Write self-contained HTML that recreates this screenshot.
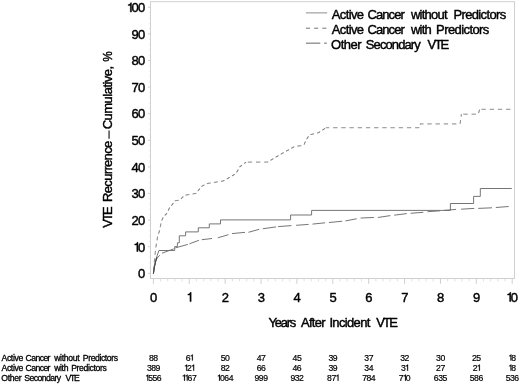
<!DOCTYPE html>
<html>
<head>
<meta charset="utf-8">
<style>
html,body{margin:0;padding:0;background:#fff;}
body{width:520px;height:384px;overflow:hidden;}
svg{display:block;font-family:"Liberation Sans",sans-serif;will-change:transform;opacity:0.999;}
text{fill:#000;}
</style>
</head>
<body>
<svg width="520" height="384" viewBox="0 0 520 384">
<rect x="0" y="0" width="520" height="384" fill="#fff"/>
<rect x="150.5" y="1.7" width="364.0" height="276.8" fill="none" stroke="#d0d0d0" stroke-width="1"/>
<path d="M148,273.30H150.5M148,246.70H150.5M148,220.10H150.5M148,193.50H150.5M148,166.90H150.5M148,140.30H150.5M148,113.70H150.5M148,87.10H150.5M148,60.50H150.5M148,33.90H150.5M148,7.30H150.5" stroke="#c8c8c8" stroke-width="0.8" fill="none"/>
<path d="M149.2,267.98H150.5M149.2,262.66H150.5M149.2,257.34H150.5M149.2,252.02H150.5M149.2,241.38H150.5M149.2,236.06H150.5M149.2,230.74H150.5M149.2,225.42H150.5M149.2,214.78H150.5M149.2,209.46H150.5M149.2,204.14H150.5M149.2,198.82H150.5M149.2,188.18H150.5M149.2,182.86H150.5M149.2,177.54H150.5M149.2,172.22H150.5M149.2,161.58H150.5M149.2,156.26H150.5M149.2,150.94H150.5M149.2,145.62H150.5M149.2,134.98H150.5M149.2,129.66H150.5M149.2,124.34H150.5M149.2,119.02H150.5M149.2,108.38H150.5M149.2,103.06H150.5M149.2,97.74H150.5M149.2,92.42H150.5M149.2,81.78H150.5M149.2,76.46H150.5M149.2,71.14H150.5M149.2,65.82H150.5M149.2,55.18H150.5M149.2,49.86H150.5M149.2,44.54H150.5M149.2,39.22H150.5M149.2,28.58H150.5M149.2,23.26H150.5M149.2,17.94H150.5M149.2,12.62H150.5" stroke="#dcdcdc" stroke-width="0.8" fill="none"/>
<path d="M153.40,278.5V283.8M189.28,278.5V283.8M225.16,278.5V283.8M261.04,278.5V283.8M296.92,278.5V283.8M332.80,278.5V283.8M368.68,278.5V283.8M404.56,278.5V283.8M440.44,278.5V283.8M476.32,278.5V283.8M512.20,278.5V283.8" stroke="#cfcfcf" stroke-width="1" fill="none"/>
<path d="M160.58,278.5V281.4M167.75,278.5V281.4M174.93,278.5V281.4M182.10,278.5V281.4M196.46,278.5V281.4M203.63,278.5V281.4M210.81,278.5V281.4M217.98,278.5V281.4M232.34,278.5V281.4M239.51,278.5V281.4M246.69,278.5V281.4M253.86,278.5V281.4M268.22,278.5V281.4M275.39,278.5V281.4M282.57,278.5V281.4M289.74,278.5V281.4M304.10,278.5V281.4M311.27,278.5V281.4M318.45,278.5V281.4M325.62,278.5V281.4M339.98,278.5V281.4M347.15,278.5V281.4M354.33,278.5V281.4M361.50,278.5V281.4M375.86,278.5V281.4M383.03,278.5V281.4M390.21,278.5V281.4M397.38,278.5V281.4M411.74,278.5V281.4M418.91,278.5V281.4M426.09,278.5V281.4M433.26,278.5V281.4M447.62,278.5V281.4M454.79,278.5V281.4M461.97,278.5V281.4M469.14,278.5V281.4M483.50,278.5V281.4M490.67,278.5V281.4M497.85,278.5V281.4M505.02,278.5V281.4" stroke="#dcdcdc" stroke-width="0.9" fill="none"/>
<g fill="none" stroke="#6e6e6e" stroke-width="0.95">
<path d="M153.4,273.5L154.4,267L155.6,261.5L157.2,258L159.8,255.2M162,253.2L173.7,248.9M175.4,247.9L187.8,244.4M189.5,243.8L198.9,240.3M201.8,239.7L212,238.5M217.8,237.8L228.4,234.7M232,233.6L245,232.35M248.4,232.3L259.2,229.3M262.8,228.75L276.1,226.9M278.2,226.6L291.4,225.6M296.1,225.3L308.6,224.4M312.5,224.1L325,222.8M328.9,222.5L342.2,221.25M345.5,220.9L356.7,218.75M360.6,218L373.9,217.5M377.8,217.5L390.3,215.6M394.2,215.2L406.7,213.6M410.6,213.3L423.3,212.3M427.5,211.7L440,210.8M444,210.4L456,209.4M461.1,209.2L474.3,208.4M478.2,208.4L492,207.8M495.8,207.5L508.7,206.5"/>
<path d="M153.40,273.50H153.44V273.00H153.48V272.50H153.52V272.00H153.56V271.50H153.60V271.00H153.64V270.50H153.68V270.00H153.72V269.50H153.76V269.00H153.80V268.50H153.84V268.00H153.88V267.50H153.92V267.00H153.96V266.50H154.00V266.00H154.04V265.50H154.08V265.00H154.12V264.50H154.16V264.00H154.20V263.50H154.24V263.00H154.28V262.50H154.32V262.00H154.36V261.50H154.40V261.00H154.45V260.52H154.49V260.03H154.54V259.55H154.58V259.07H154.63V258.58H154.68V258.10H154.72V257.62H154.77V257.13H154.81V256.65H154.86V256.17H154.90V255.68H154.95V255.20H155.00V254.72H155.04V254.23H155.09V253.75H155.13V253.27H155.18V252.78H155.22V252.30H155.27V251.82H155.32V251.33H155.36V250.85H155.41V250.37H155.45V249.88H155.50V249.40H155.58V248.90H155.66V248.40H155.74V247.90H155.82V247.40H155.90V246.90H155.98V246.40H156.06V245.90H156.14V245.40H156.22V244.90H156.30V244.40H156.38V243.90H156.46V243.40H156.54V242.90H156.62V242.40H156.70V241.90H156.78V241.40H156.86V240.90H156.94V240.40H157.02V239.90H157.10V239.40H157.18V238.90H157.26V238.40H157.34V237.90H157.42V237.40H157.50V236.90H157.65V236.42H157.79V235.95H157.94V235.47H158.08V234.99H158.23V234.52H158.38V234.04H158.52V233.56H158.67V233.08H158.82V232.61H158.96V232.13H159.11V231.65H159.25V231.18H159.40V230.70H159.50V230.23H159.60V229.76H159.70V229.29H159.80V228.82H159.90V228.35H160.00V227.88H160.10V227.41H160.20V226.94H160.30V226.47H160.40V226.00H160.50V225.50H160.60V225.00H160.70V224.50H160.80V224.00H160.90V223.50H161.00V223.00H161.10V222.50H161.20V222.00H161.30V221.50H161.40V221.00H161.61V220.52H161.82V220.04H162.03V219.57H162.24V219.09H162.46V218.61H162.67V218.13H162.88V217.66H163.09V217.18H163.30V216.70H163.79V216.21H164.28V215.72H164.76V215.24H165.25V214.75H165.74V214.26H166.22V213.78H166.71V213.29H167.20V212.80H167.40V212.33H167.60V211.86H167.80V211.39H168.00V210.92H168.20V210.45H168.40V209.98H168.60V209.51H168.80V209.04H169.00V208.57H169.20V208.10H169.59V207.62H169.98V207.14H170.37V206.67H170.76V206.19H171.14V205.71H171.53V205.23H171.92V204.76H172.31V204.28H172.70V203.80H172.99V203.36H173.27V202.91H173.56V202.47H173.84V202.03H174.13V201.59H174.41V201.14H174.70V200.70H175.19V200.65H175.67V200.60H176.16V200.55H176.65V200.50H177.14V200.45H177.62V200.40H178.11V200.35H178.60V200.30H179.05V199.97H179.50V199.63H179.95V199.30H180.40V198.97H180.85V198.63H181.30V198.30H181.78V197.80H182.27V197.30H182.75V196.80H183.23V196.30H183.72V195.80H184.20V195.30H184.69V195.22H185.17V195.14H185.66V195.06H186.15V194.98H186.64V194.90H187.12V194.83H187.61V194.75H188.10V194.67H188.59V194.59H189.07V194.51H189.56V194.43H190.05V194.35H190.54V194.27H191.03V194.19H191.51V194.11H192.00V194.03H192.49V193.95H192.97V193.88H193.46V193.80H193.95V193.72H194.44V193.64H194.93V193.56H195.41V193.48H195.90V193.40H196.27V192.91H196.64V192.43H197.01V191.94H197.39V191.46H197.76V190.97H198.13V190.49H198.50V190.00H198.91V189.51H199.32V189.03H199.74V188.54H200.15V188.05H200.56V187.56H200.98V187.07H201.39V186.59H201.80V186.10H202.28V185.85H202.76V185.60H203.24V185.35H203.72V185.10H204.20V184.85H204.68V184.60H205.16V184.35H205.64V184.10H206.12V183.85H206.60V183.60H207.09V183.52H207.58V183.44H208.06V183.36H208.55V183.28H209.04V183.20H209.53V183.12H210.02V183.04H210.51V182.96H210.99V182.89H211.48V182.81H211.97V182.73H212.46V182.65H212.95V182.57H213.44V182.49H213.92V182.41H214.41V182.33H214.90V182.25H215.39V182.17H215.88V182.09H216.36V182.01H216.85V181.93H217.34V181.85H217.83V181.77H218.32V181.69H218.81V181.61H219.29V181.54H219.78V181.46H220.27V181.38H220.76V181.30H221.25V181.22H221.74V181.14H222.22V181.06H222.71V180.98H223.20V180.90H223.69V180.62H224.17V180.34H224.66V180.06H225.14V179.79H225.63V179.51H226.11V179.23H226.60V178.95H227.09V178.67H227.57V178.39H228.06V178.11H228.54V177.84H229.03V177.56H229.51V177.28H230.00V177.00H230.49V176.70H230.98V176.40H231.47V176.10H231.97V175.80H232.46V175.50H232.95V175.20H233.44V174.90H233.93V174.60H234.43V174.30H234.92V174.00H235.41V173.70H235.90V173.40H236.18V172.91H236.46V172.43H236.74V171.94H237.01V171.46H237.29V170.97H237.57V170.49H237.85V170.00H238.13V169.51H238.41V169.03H238.69V168.54H238.96V168.06H239.24V167.57H239.52V167.09H239.80V166.60H240.27V166.25H240.74V165.91H241.21V165.56H241.68V165.22H242.15V164.87H242.62V164.52H243.08V164.18H243.55V163.83H244.02V163.48H244.49V163.14H244.96V162.79H245.43V162.45H245.90V162.10" stroke-dasharray="4.3,3.9" stroke-dashoffset="-4.0" stroke-linejoin="bevel"/>
<path d="M245.90,162.10H246.40V162.10H246.90V162.10H247.39V162.10H247.89V162.10H248.39V162.10H248.89V162.10H249.38V162.10H249.88V162.10H250.38V162.10H250.88V162.10H251.37V162.10H251.87V162.10H252.37V162.10H252.87V162.10H253.37V162.10H253.86V162.10H254.36V162.10H254.86V162.10H255.36V162.10H255.85V162.10H256.35V162.10H256.85V162.10H257.35V162.10H257.84V162.10H258.34V162.10H258.84V162.10H259.34V162.10H259.83V162.10H260.33V162.10H260.83V162.10H261.33V162.10H261.83V162.10H262.32V162.10H262.82V162.10H263.32V162.10H263.82V162.10H264.31V162.10H264.81V162.10H265.31V162.10H265.81V162.10H266.30V162.10H266.80V162.10H267.30V162.10H267.79V161.81H268.28V161.52H268.77V161.22H269.25V160.93H269.74V160.64H270.23V160.35H270.72V160.05H271.21V159.76H271.70V159.47H272.18V159.18H272.67V158.88H273.16V158.59H273.65V158.30H274.14V158.01H274.63V157.72H275.12V157.42H275.60V157.13H276.09V156.84H276.58V156.55H277.07V156.25H277.56V155.96H278.05V155.67H278.53V155.38H279.02V155.08H279.51V154.79H280.00V154.50H280.49V154.23H280.98V153.95H281.47V153.68H281.96V153.41H282.45V153.13H282.94V152.86H283.43V152.59H283.92V152.31H284.41V152.04H284.90V151.77H285.39V151.49H285.88V151.22H286.37V150.95H286.86V150.67H287.35V150.40H287.84V150.13H288.33V149.85H288.82V149.58H289.31V149.31H289.80V149.03H290.29V148.76H290.78V148.49H291.27V148.21H291.76V147.94H292.25V147.67H292.74V147.39H293.23V147.12H293.72V146.85H294.21V146.57H294.70V146.30H295.19V146.26H295.68V146.21H296.17V146.17H296.66V146.12H297.14V146.08H297.63V146.03H298.12V145.99H298.61V145.94H299.10V145.90H299.59V145.86H300.08V145.81H300.57V145.77H301.06V145.72H301.54V145.68H302.03V145.63H302.52V145.59H303.01V145.54H303.50V145.50H303.73V145.00H303.95V144.50H304.18V144.00H304.41V143.50H304.64V143.00H304.86V142.50H305.09V142.00H305.32V141.50H305.55V141.00H305.77V140.50H306.00V140.00H306.30V139.53H306.60V139.05H306.90V138.58H307.20V138.11H307.50V137.64H307.80V137.16H308.10V136.69H308.40V136.22H308.70V135.75H309.00V135.27H309.30V134.80H309.79V134.69H310.28V134.58H310.77V134.47H311.26V134.36H311.74V134.24H312.23V134.13H312.72V134.02H313.21V133.91H313.70V133.80H314.19V133.69H314.68V133.58H315.17V133.47H315.66V133.36H316.14V133.24H316.63V133.13H317.12V133.02H317.61V132.91H318.10V132.80H318.59V132.48H319.08V132.16H319.56V131.84H320.05V131.53H320.54V131.21H321.02V130.89H321.51V130.57H322.00V130.25H322.49V129.93H322.98V129.61H323.46V129.29H323.95V128.97H324.44V128.66H324.92V128.34H325.41V128.02H325.90V127.70" stroke-dasharray="4.3,3.9" stroke-dashoffset="-1.9" stroke-linejoin="bevel"/>
<path d="M325.90,127.70H326.40V127.70H326.90V127.70H327.40V127.70H327.90V127.70H328.40V127.70H328.90V127.70H329.40V127.70H329.90V127.70H330.40V127.70H330.90V127.70H331.40V127.70H331.90V127.70H332.40V127.70H332.90V127.70H333.40V127.70H333.90V127.70H334.40V127.70H334.90V127.70H335.40V127.70H335.90V127.70H336.40V127.70H336.90V127.70H337.40V127.70H337.90V127.70H338.40V127.70H338.90V127.70H339.40V127.70H339.90V127.70H340.40V127.70H340.90V127.70H341.40V127.70H341.90V127.70H342.40V127.70H342.90V127.70H343.40V127.70H343.90V127.70H344.40V127.70H344.90V127.70H345.40V127.70H345.90V127.70H346.40V127.70H346.90V127.70H347.40V127.70H347.90V127.70H348.40V127.70H348.90V127.70H349.40V127.70H349.90V127.70H350.40V127.70H350.90V127.70H351.40V127.70H351.90V127.70H352.40V127.70H352.90V127.70H353.40V127.70H353.90V127.70H354.40V127.70H354.90V127.70H355.40V127.70H355.90V127.70H356.40V127.70H356.90V127.70H357.40V127.70H357.90V127.70H358.40V127.70H358.90V127.70H359.40V127.70H359.90V127.70H360.40V127.70H360.90V127.70H361.40V127.70H361.90V127.70H362.40V127.70H362.90V127.70H363.40V127.70H363.90V127.70H364.40V127.70H364.90V127.70H365.40V127.70H365.90V127.70H366.40V127.70H366.90V127.70H367.40V127.70H367.90V127.70H368.40V127.70H368.90V127.70H369.40V127.70H369.90V127.70H370.40V127.70H370.90V127.70H371.40V127.70H371.90V127.70H372.40V127.70H372.90V127.70H373.40V127.70H373.90V127.70H374.40V127.70H374.90V127.70H375.40V127.70H375.90V127.70H376.40V127.70H376.90V127.70H377.40V127.70H377.90V127.70H378.40V127.70H378.90V127.70H379.40V127.70H379.90V127.70H380.40V127.70H380.90V127.70H381.40V127.70H381.90V127.70H382.40V127.70H382.90V127.70H383.40V127.70H383.90V127.70H384.40V127.70H384.90V127.70H385.40V127.70H385.90V127.70H386.40V127.70H386.90V127.70H387.40V127.70H387.90V127.70H388.40V127.70H388.90V127.70H389.40V127.70H389.90V127.70H390.40V127.70H390.90V127.70H391.40V127.70H391.90V127.70H392.40V127.70H392.90V127.70H393.40V127.70H393.90V127.70H394.40V127.70H394.90V127.70H395.40V127.70H395.90V127.70H396.40V127.70H396.90V127.70H397.40V127.70H397.90V127.70H398.40V127.70H398.90V127.70H399.40V127.70H399.90V127.70H400.40V127.70H400.90V127.70H401.40V127.70H401.90V127.70H402.40V127.70H402.90V127.70H403.40V127.70H403.90V127.70H404.40V127.70H404.90V127.70H405.40V127.70H405.90V127.70H406.40V127.70H406.90V127.70H407.40V127.70H407.90V127.70H408.40V127.70H408.90V127.70H409.40V127.70H409.90V127.70H410.40V127.70H410.90V127.70H411.40V127.70H411.90V127.70H412.40V127.70H412.90V127.70H413.40V127.70H413.90V127.70H414.40V127.70H414.90V127.70H415.40V127.70H415.90V127.70H416.40V127.70H416.90V127.70H417.40V127.70H417.90V127.70H418.40V127.70H418.90V127.70H419.07V127.23H419.25V126.75H419.43V126.28H419.60V125.80H419.77V125.33H419.95V124.85H420.12V124.38H420.30V123.90" stroke-dasharray="4.3,3.9" stroke-dashoffset="1.0" stroke-linejoin="bevel"/>
<path d="M420.30,123.90H420.80V123.90H421.29V123.90H421.79V123.90H422.29V123.90H422.78V123.90H423.28V123.90H423.77V123.90H424.27V123.90H424.77V123.90H425.26V123.90H425.76V123.90H426.25V123.90H426.75V123.90H427.25V123.90H427.74V123.90H428.24V123.90H428.74V123.90H429.23V123.90H429.73V123.90H430.23V123.90H430.72V123.90H431.22V123.90H431.71V123.90H432.21V123.90H432.71V123.90H433.20V123.90H433.70V123.90H434.19V123.90H434.69V123.90H435.19V123.90H435.68V123.90H436.18V123.90H436.68V123.90H437.17V123.90H437.67V123.90H438.17V123.90H438.66V123.90H439.16V123.90H439.65V123.90H440.15V123.90H440.65V123.90H441.14V123.90H441.64V123.90H442.13V123.90H442.63V123.90H443.13V123.90H443.62V123.90H444.12V123.90H444.62V123.90H445.11V123.90H445.61V123.90H446.11V123.90H446.60V123.90H447.10V123.90H447.59V123.90H448.09V123.90H448.59V123.90H449.08V123.90H449.58V123.90H450.07V123.90H450.57V123.90H451.07V123.90H451.56V123.90H452.06V123.90H452.56V123.90H453.05V123.90H453.55V123.90H454.05V123.90H454.54V123.90H455.04V123.90H455.53V123.90H456.03V123.90H456.53V123.90H457.02V123.90H457.52V123.90H458.01V123.90H458.51V123.90H459.01V123.90H459.50V123.90H460.00V123.90H460.07V123.42H460.14V122.93H460.21V122.45H460.28V121.96H460.35V121.48H460.42V120.99H460.49V120.51H460.56V120.02H460.63V119.54H460.70V119.05H460.77V118.56H460.84V118.08H460.91V117.59H460.98V117.11H461.05V116.62H461.12V116.14H461.19V115.66H461.26V115.17H461.33V114.69H461.40V114.20" stroke-dasharray="4.3,3.9" stroke-dashoffset="-7.1" stroke-linejoin="bevel"/>
<path d="M461.40,114.20H461.89V114.20H462.39V114.20H462.88V114.20H463.38V114.20H463.87V114.20H464.36V114.20H464.86V114.20H465.35V114.20H465.85V114.20H466.34V114.20H466.84V114.20H467.33V114.20H467.82V114.20H468.32V114.20H468.81V114.20H469.31V114.20H469.80V114.20H470.29V114.20H470.79V114.20H471.28V114.20H471.78V114.20H472.27V114.20H472.76V114.20H473.26V114.20H473.75V114.20H474.25V114.20H474.74V114.20H475.24V114.20H475.73V114.20H476.22V114.20H476.72V114.20H477.21V114.20H477.71V114.20H478.20V114.20H478.34V113.71H478.48V113.22H478.62V112.73H478.76V112.24H478.90V111.75H479.04V111.26H479.18V110.77H479.32V110.28H479.46V109.79H479.60V109.30" stroke-dasharray="4.3,3.9" stroke-dashoffset="-2.0" stroke-linejoin="bevel"/>
<path d="M479.60,109.30H480.10V109.30H480.59V109.30H481.09V109.30H481.58V109.30H482.08V109.30H482.57V109.30H483.07V109.30H483.56V109.30H484.06V109.30H484.55V109.30H485.05V109.30H485.54V109.30H486.04V109.30H486.54V109.30H487.03V109.30H487.53V109.30H488.02V109.30H488.52V109.30H489.01V109.30H489.51V109.30H490.00V109.30H490.50V109.30H490.99V109.30H491.49V109.30H491.98V109.30H492.48V109.30H492.98V109.30H493.47V109.30H493.97V109.30H494.46V109.30H494.96V109.30H495.45V109.30H495.95V109.30H496.44V109.30H496.94V109.30H497.43V109.30H497.93V109.30H498.42V109.30H498.92V109.30H499.42V109.30H499.91V109.30H500.41V109.30H500.90V109.30H501.40V109.30H501.89V109.30H502.39V109.30H502.88V109.30H503.38V109.30H503.87V109.30H504.37V109.30H504.86V109.30H505.36V109.30H505.86V109.30H506.35V109.30H506.85V109.30H507.34V109.30H507.84V109.30H508.33V109.30H508.83V109.30H509.32V109.30H509.82V109.30H510.31V109.30H510.81V109.30H511.30V109.30H511.80V109.30" stroke-dasharray="4.3,3.9" stroke-dashoffset="-1.9" stroke-linejoin="bevel"/>
<path d="M153.4,273.5L154.4,267L155.6,261L157.2,255.5L158.9,250.5H174.7V246.6H177.4V242.8H179.3V235.8H185.6V231.9H198.3V227.8H209.3V223.9H220.5V219.9H290.6V215H311.6V210.4H450.4V203.5H473.6V196.4H480.3V188.5H511.8"/>
<path d="M153.4,273.6L154.4,267L155.6,261.3L156.8,257.5" stroke="#4a4a4a" stroke-width="1.1"/>
</g>
<g fill="none" stroke-width="1"><path d="M305.9,12.9H327.2" stroke="#8c8c8c"/><path d="M305.9,28.2H327" stroke="#757575" stroke-dasharray="4.1,4.1"/><path d="M305.9,43.15H320.3M324.1,43.15H326.8" stroke="#666"/></g>
<text x="331.75" y="18.80" style="font-size:13.0px;letter-spacing:-0.630px;stroke:#000;stroke-width:0.42px">Active</text>
<text x="367.50" y="18.80" style="font-size:13.0px;letter-spacing:-0.920px;stroke:#000;stroke-width:0.42px">Cancer</text>
<text x="410.95" y="18.80" style="font-size:13.0px;letter-spacing:-0.758px;stroke:#000;stroke-width:0.42px">without</text>
<text x="453.45" y="18.80" style="font-size:13.0px;letter-spacing:-0.633px;stroke:#000;stroke-width:0.42px">Predictors</text>
<text x="331.75" y="34.15" style="font-size:13.0px;letter-spacing:-0.630px;stroke:#000;stroke-width:0.42px">Active</text>
<text x="367.50" y="34.15" style="font-size:13.0px;letter-spacing:-0.920px;stroke:#000;stroke-width:0.42px">Cancer</text>
<text x="410.95" y="34.15" style="font-size:13.0px;letter-spacing:-0.767px;stroke:#000;stroke-width:0.42px">with</text>
<text x="436.05" y="34.15" style="font-size:13.0px;letter-spacing:-0.578px;stroke:#000;stroke-width:0.42px">Predictors</text>
<text x="331.00" y="49.30" style="font-size:13.0px;letter-spacing:-0.475px;stroke:#000;stroke-width:0.42px">Other</text>
<text x="365.85" y="49.30" style="font-size:13.0px;letter-spacing:-0.913px;stroke:#000;stroke-width:0.42px">Secondary</text>
<text x="427.55" y="49.30" style="font-size:13.0px;letter-spacing:-1.800px;stroke:#000;stroke-width:0.42px">VTE</text>
<text x="268.50" y="327.00" style="font-size:13.0px;letter-spacing:-1.225px;stroke:#000;stroke-width:0.42px">Years</text>
<text x="301.05" y="327.00" style="font-size:13.0px;letter-spacing:-0.750px;stroke:#000;stroke-width:0.42px">After</text>
<text x="329.40" y="327.00" style="font-size:13.0px;letter-spacing:-0.650px;stroke:#000;stroke-width:0.42px">Incident</text>
<text x="376.15" y="327.00" style="font-size:13.0px;letter-spacing:-1.750px;stroke:#000;stroke-width:0.42px">VTE</text>
<g transform="translate(112.3,228.1) rotate(-90)">
<text x="0.25" y="0.00" style="font-size:13.0px;letter-spacing:-1.850px;stroke:#000;stroke-width:0.42px">VTE</text>
<text x="26.15" y="0.00" style="font-size:13.0px;letter-spacing:-0.667px;stroke:#000;stroke-width:0.42px">Recurrence</text>
<text x="98.80" y="0.00" style="font-size:13.0px;letter-spacing:-0.515px;stroke:#000;stroke-width:0.42px">Cumulative,</text>
<text transform="translate(166.47,0.00) scale(0.909,1)" x="0" y="0" style="font-size:13.0px;stroke:#000;stroke-width:0.42px">%</text>
<path d="M89.4,-3.25H97.6" stroke="#000" stroke-width="1.05" fill="none"/>
</g>
<text x="1.50" y="360.60" style="font-size:8.67px;letter-spacing:-0.370px;stroke:#000;stroke-width:0.3px">Active</text>
<text x="25.55" y="360.60" style="font-size:8.67px;letter-spacing:-0.590px;stroke:#000;stroke-width:0.3px">Cancer</text>
<text x="54.15" y="360.60" style="font-size:8.67px;letter-spacing:-0.317px;stroke:#000;stroke-width:0.3px">without</text>
<text x="82.80" y="360.60" style="font-size:8.67px;letter-spacing:-0.411px;stroke:#000;stroke-width:0.3px">Predictors</text>
<text x="1.50" y="370.70" style="font-size:8.67px;letter-spacing:-0.370px;stroke:#000;stroke-width:0.3px">Active</text>
<text x="25.55" y="370.70" style="font-size:8.67px;letter-spacing:-0.590px;stroke:#000;stroke-width:0.3px">Cancer</text>
<text x="54.15" y="370.70" style="font-size:8.67px;letter-spacing:-0.350px;stroke:#000;stroke-width:0.3px">with</text>
<text x="71.20" y="370.70" style="font-size:8.67px;letter-spacing:-0.378px;stroke:#000;stroke-width:0.3px">Predictors</text>
<text x="1.25" y="380.70" style="font-size:8.67px;letter-spacing:-0.300px;stroke:#000;stroke-width:0.3px">Other</text>
<text x="24.35" y="380.70" style="font-size:8.67px;letter-spacing:-0.581px;stroke:#000;stroke-width:0.3px">Secondary</text>
<text x="65.50" y="380.70" style="font-size:8.67px;letter-spacing:-1.275px;stroke:#000;stroke-width:0.3px">VTE</text>
<text x="137.98" y="278.15" style="font-size:13.0px;stroke:#000;stroke-width:0.42px">0</text>
<path transform="translate(134.31,251.54) scale(13.0)" d="M0.19,0 L0.285,0 L0.285,-0.712 L0.218,-0.712 C0.197,-0.63 0.13,-0.578 0.03,-0.572 L0.03,-0.503 L0.19,-0.503 Z" fill="#000" stroke="#000" stroke-width="0.0323"/><text x="137.98" y="251.54" style="font-size:13.0px;stroke:#000;stroke-width:0.42px">0</text>
<text x="131.48" y="224.93" style="font-size:13.0px;stroke:#000;stroke-width:0.42px">2</text><text x="137.98" y="224.93" style="font-size:13.0px;stroke:#000;stroke-width:0.42px">0</text>
<text x="131.51" y="198.32" style="font-size:13.0px;stroke:#000;stroke-width:0.42px">3</text><text x="137.98" y="198.32" style="font-size:13.0px;stroke:#000;stroke-width:0.42px">0</text>
<text x="131.52" y="171.71" style="font-size:13.0px;stroke:#000;stroke-width:0.42px">4</text><text x="137.98" y="171.71" style="font-size:13.0px;stroke:#000;stroke-width:0.42px">0</text>
<text x="131.49" y="145.10" style="font-size:13.0px;stroke:#000;stroke-width:0.42px">5</text><text x="137.98" y="145.10" style="font-size:13.0px;stroke:#000;stroke-width:0.42px">0</text>
<text x="131.43" y="118.49" style="font-size:13.0px;stroke:#000;stroke-width:0.42px">6</text><text x="137.98" y="118.49" style="font-size:13.0px;stroke:#000;stroke-width:0.42px">0</text>
<text x="131.47" y="91.88" style="font-size:13.0px;stroke:#000;stroke-width:0.42px">7</text><text x="137.98" y="91.88" style="font-size:13.0px;stroke:#000;stroke-width:0.42px">0</text>
<text x="131.48" y="65.27" style="font-size:13.0px;stroke:#000;stroke-width:0.42px">8</text><text x="137.98" y="65.27" style="font-size:13.0px;stroke:#000;stroke-width:0.42px">0</text>
<text x="131.48" y="38.66" style="font-size:13.0px;stroke:#000;stroke-width:0.42px">9</text><text x="137.98" y="38.66" style="font-size:13.0px;stroke:#000;stroke-width:0.42px">0</text>
<path transform="translate(127.81,12.05) scale(13.0)" d="M0.19,0 L0.285,0 L0.285,-0.712 L0.218,-0.712 C0.197,-0.63 0.13,-0.578 0.03,-0.572 L0.03,-0.503 L0.19,-0.503 Z" fill="#000" stroke="#000" stroke-width="0.0323"/><text x="131.48" y="12.05" style="font-size:13.0px;stroke:#000;stroke-width:0.42px">0</text><text x="137.98" y="12.05" style="font-size:13.0px;stroke:#000;stroke-width:0.42px">0</text>
<text x="149.99" y="301.60" style="font-size:13.0px;stroke:#000;stroke-width:0.42px">0</text>
<path transform="translate(187.47,301.60) scale(13.0)" d="M0.19,0 L0.285,0 L0.285,-0.712 L0.218,-0.712 C0.197,-0.63 0.13,-0.578 0.03,-0.572 L0.03,-0.503 L0.19,-0.503 Z" fill="#000" stroke="#000" stroke-width="0.0323"/>
<text x="221.75" y="301.60" style="font-size:13.0px;stroke:#000;stroke-width:0.42px">2</text>
<text x="257.66" y="301.60" style="font-size:13.0px;stroke:#000;stroke-width:0.42px">3</text>
<text x="293.55" y="301.60" style="font-size:13.0px;stroke:#000;stroke-width:0.42px">4</text>
<text x="329.40" y="301.60" style="font-size:13.0px;stroke:#000;stroke-width:0.42px">5</text>
<text x="365.22" y="301.60" style="font-size:13.0px;stroke:#000;stroke-width:0.42px">6</text>
<text x="401.14" y="301.60" style="font-size:13.0px;stroke:#000;stroke-width:0.42px">7</text>
<text x="437.03" y="301.60" style="font-size:13.0px;stroke:#000;stroke-width:0.42px">8</text>
<text x="472.91" y="301.60" style="font-size:13.0px;stroke:#000;stroke-width:0.42px">9</text>
<path transform="translate(507.14,301.60) scale(13.0)" d="M0.19,0 L0.285,0 L0.285,-0.712 L0.218,-0.712 C0.197,-0.63 0.13,-0.578 0.03,-0.572 L0.03,-0.503 L0.19,-0.503 Z" fill="#000" stroke="#000" stroke-width="0.0323"/><text x="510.80" y="301.60" style="font-size:13.0px;stroke:#000;stroke-width:0.42px">0</text>
<text x="149.02" y="360.60" style="font-size:8.67px;stroke:#000;stroke-width:0.2px">8</text><text x="153.36" y="360.60" style="font-size:8.67px;stroke:#000;stroke-width:0.2px">8</text>
<text x="185.70" y="360.60" style="font-size:8.67px;stroke:#000;stroke-width:0.2px">6</text><path transform="translate(190.30,360.60) scale(8.67)" d="M0.19,0 L0.285,0 L0.285,-0.712 L0.218,-0.712 C0.197,-0.63 0.13,-0.578 0.03,-0.572 L0.03,-0.503 L0.19,-0.503 Z" fill="#000" stroke="#000" stroke-width="0.0231"/>
<text x="220.79" y="360.60" style="font-size:8.67px;stroke:#000;stroke-width:0.2px">5</text><text x="225.12" y="360.60" style="font-size:8.67px;stroke:#000;stroke-width:0.2px">0</text>
<text x="256.69" y="360.60" style="font-size:8.67px;stroke:#000;stroke-width:0.2px">4</text><text x="260.99" y="360.60" style="font-size:8.67px;stroke:#000;stroke-width:0.2px">7</text>
<text x="292.57" y="360.60" style="font-size:8.67px;stroke:#000;stroke-width:0.2px">4</text><text x="296.89" y="360.60" style="font-size:8.67px;stroke:#000;stroke-width:0.2px">5</text>
<text x="328.45" y="360.60" style="font-size:8.67px;stroke:#000;stroke-width:0.2px">3</text><text x="332.76" y="360.60" style="font-size:8.67px;stroke:#000;stroke-width:0.2px">9</text>
<text x="364.33" y="360.60" style="font-size:8.67px;stroke:#000;stroke-width:0.2px">3</text><text x="368.63" y="360.60" style="font-size:8.67px;stroke:#000;stroke-width:0.2px">7</text>
<text x="400.21" y="360.60" style="font-size:8.67px;stroke:#000;stroke-width:0.2px">3</text><text x="404.52" y="360.60" style="font-size:8.67px;stroke:#000;stroke-width:0.2px">2</text>
<text x="436.09" y="360.60" style="font-size:8.67px;stroke:#000;stroke-width:0.2px">3</text><text x="440.40" y="360.60" style="font-size:8.67px;stroke:#000;stroke-width:0.2px">0</text>
<text x="471.94" y="360.60" style="font-size:8.67px;stroke:#000;stroke-width:0.2px">2</text><text x="476.29" y="360.60" style="font-size:8.67px;stroke:#000;stroke-width:0.2px">5</text>
<path transform="translate(508.89,360.60) scale(8.67)" d="M0.19,0 L0.285,0 L0.285,-0.712 L0.218,-0.712 C0.197,-0.63 0.13,-0.578 0.03,-0.572 L0.03,-0.503 L0.19,-0.503 Z" fill="#000" stroke="#000" stroke-width="0.0231"/><text x="511.33" y="360.60" style="font-size:8.67px;stroke:#000;stroke-width:0.2px">8</text>
<text x="146.88" y="370.70" style="font-size:8.67px;stroke:#000;stroke-width:0.2px">3</text><text x="151.19" y="370.70" style="font-size:8.67px;stroke:#000;stroke-width:0.2px">8</text><text x="155.53" y="370.70" style="font-size:8.67px;stroke:#000;stroke-width:0.2px">9</text>
<path transform="translate(184.62,370.70) scale(8.67)" d="M0.19,0 L0.285,0 L0.285,-0.712 L0.218,-0.712 C0.197,-0.63 0.13,-0.578 0.03,-0.572 L0.03,-0.503 L0.19,-0.503 Z" fill="#000" stroke="#000" stroke-width="0.0231"/><text x="187.07" y="370.70" style="font-size:8.67px;stroke:#000;stroke-width:0.2px">2</text><path transform="translate(191.65,370.70) scale(8.67)" d="M0.19,0 L0.285,0 L0.285,-0.712 L0.218,-0.712 C0.197,-0.63 0.13,-0.578 0.03,-0.572 L0.03,-0.503 L0.19,-0.503 Z" fill="#000" stroke="#000" stroke-width="0.0231"/>
<text x="220.78" y="370.70" style="font-size:8.67px;stroke:#000;stroke-width:0.2px">8</text><text x="225.12" y="370.70" style="font-size:8.67px;stroke:#000;stroke-width:0.2px">2</text>
<text x="256.63" y="370.70" style="font-size:8.67px;stroke:#000;stroke-width:0.2px">6</text><text x="260.97" y="370.70" style="font-size:8.67px;stroke:#000;stroke-width:0.2px">6</text>
<text x="292.57" y="370.70" style="font-size:8.67px;stroke:#000;stroke-width:0.2px">4</text><text x="296.85" y="370.70" style="font-size:8.67px;stroke:#000;stroke-width:0.2px">6</text>
<text x="328.45" y="370.70" style="font-size:8.67px;stroke:#000;stroke-width:0.2px">3</text><text x="332.76" y="370.70" style="font-size:8.67px;stroke:#000;stroke-width:0.2px">9</text>
<text x="364.33" y="370.70" style="font-size:8.67px;stroke:#000;stroke-width:0.2px">3</text><text x="368.66" y="370.70" style="font-size:8.67px;stroke:#000;stroke-width:0.2px">4</text>
<text x="401.03" y="370.70" style="font-size:8.67px;stroke:#000;stroke-width:0.2px">3</text><path transform="translate(405.58,370.70) scale(8.67)" d="M0.19,0 L0.285,0 L0.285,-0.712 L0.218,-0.712 C0.197,-0.63 0.13,-0.578 0.03,-0.572 L0.03,-0.503 L0.19,-0.503 Z" fill="#000" stroke="#000" stroke-width="0.0231"/>
<text x="436.06" y="370.70" style="font-size:8.67px;stroke:#000;stroke-width:0.2px">2</text><text x="440.39" y="370.70" style="font-size:8.67px;stroke:#000;stroke-width:0.2px">7</text>
<text x="472.77" y="370.70" style="font-size:8.67px;stroke:#000;stroke-width:0.2px">2</text><path transform="translate(477.34,370.70) scale(8.67)" d="M0.19,0 L0.285,0 L0.285,-0.712 L0.218,-0.712 C0.197,-0.63 0.13,-0.578 0.03,-0.572 L0.03,-0.503 L0.19,-0.503 Z" fill="#000" stroke="#000" stroke-width="0.0231"/>
<path transform="translate(508.89,370.70) scale(8.67)" d="M0.19,0 L0.285,0 L0.285,-0.712 L0.218,-0.712 C0.197,-0.63 0.13,-0.578 0.03,-0.572 L0.03,-0.503 L0.19,-0.503 Z" fill="#000" stroke="#000" stroke-width="0.0231"/><text x="511.33" y="370.70" style="font-size:8.67px;stroke:#000;stroke-width:0.2px">8</text>
<path transform="translate(145.75,380.70) scale(8.67)" d="M0.19,0 L0.285,0 L0.285,-0.712 L0.218,-0.712 C0.197,-0.63 0.13,-0.578 0.03,-0.572 L0.03,-0.503 L0.19,-0.503 Z" fill="#000" stroke="#000" stroke-width="0.0231"/><text x="148.21" y="380.70" style="font-size:8.67px;stroke:#000;stroke-width:0.2px">5</text><text x="152.54" y="380.70" style="font-size:8.67px;stroke:#000;stroke-width:0.2px">5</text><text x="156.84" y="380.70" style="font-size:8.67px;stroke:#000;stroke-width:0.2px">6</text>
<path transform="translate(182.46,380.70) scale(8.67)" d="M0.19,0 L0.285,0 L0.285,-0.712 L0.218,-0.712 C0.197,-0.63 0.13,-0.578 0.03,-0.572 L0.03,-0.503 L0.19,-0.503 Z" fill="#000" stroke="#000" stroke-width="0.0231"/><path transform="translate(185.14,380.70) scale(8.67)" d="M0.19,0 L0.285,0 L0.285,-0.712 L0.218,-0.712 C0.197,-0.63 0.13,-0.578 0.03,-0.572 L0.03,-0.503 L0.19,-0.503 Z" fill="#000" stroke="#000" stroke-width="0.0231"/><text x="187.56" y="380.70" style="font-size:8.67px;stroke:#000;stroke-width:0.2px">6</text><text x="191.92" y="380.70" style="font-size:8.67px;stroke:#000;stroke-width:0.2px">7</text>
<path transform="translate(217.51,380.70) scale(8.67)" d="M0.19,0 L0.285,0 L0.285,-0.712 L0.218,-0.712 C0.197,-0.63 0.13,-0.578 0.03,-0.572 L0.03,-0.503 L0.19,-0.503 Z" fill="#000" stroke="#000" stroke-width="0.0231"/><text x="219.96" y="380.70" style="font-size:8.67px;stroke:#000;stroke-width:0.2px">0</text><text x="224.26" y="380.70" style="font-size:8.67px;stroke:#000;stroke-width:0.2px">6</text><text x="228.66" y="380.70" style="font-size:8.67px;stroke:#000;stroke-width:0.2px">4</text>
<text x="254.50" y="380.70" style="font-size:8.67px;stroke:#000;stroke-width:0.2px">9</text><text x="258.83" y="380.70" style="font-size:8.67px;stroke:#000;stroke-width:0.2px">9</text><text x="263.17" y="380.70" style="font-size:8.67px;stroke:#000;stroke-width:0.2px">9</text>
<text x="290.38" y="380.70" style="font-size:8.67px;stroke:#000;stroke-width:0.2px">9</text><text x="294.73" y="380.70" style="font-size:8.67px;stroke:#000;stroke-width:0.2px">3</text><text x="299.04" y="380.70" style="font-size:8.67px;stroke:#000;stroke-width:0.2px">2</text>
<text x="327.08" y="380.70" style="font-size:8.67px;stroke:#000;stroke-width:0.2px">8</text><text x="331.41" y="380.70" style="font-size:8.67px;stroke:#000;stroke-width:0.2px">7</text><path transform="translate(335.99,380.70) scale(8.67)" d="M0.19,0 L0.285,0 L0.285,-0.712 L0.218,-0.712 C0.197,-0.63 0.13,-0.578 0.03,-0.572 L0.03,-0.503 L0.19,-0.503 Z" fill="#000" stroke="#000" stroke-width="0.0231"/>
<text x="362.13" y="380.70" style="font-size:8.67px;stroke:#000;stroke-width:0.2px">7</text><text x="366.47" y="380.70" style="font-size:8.67px;stroke:#000;stroke-width:0.2px">8</text><text x="370.83" y="380.70" style="font-size:8.67px;stroke:#000;stroke-width:0.2px">4</text>
<text x="398.83" y="380.70" style="font-size:8.67px;stroke:#000;stroke-width:0.2px">7</text><path transform="translate(403.42,380.70) scale(8.67)" d="M0.19,0 L0.285,0 L0.285,-0.712 L0.218,-0.712 C0.197,-0.63 0.13,-0.578 0.03,-0.572 L0.03,-0.503 L0.19,-0.503 Z" fill="#000" stroke="#000" stroke-width="0.0231"/><text x="405.86" y="380.70" style="font-size:8.67px;stroke:#000;stroke-width:0.2px">0</text>
<text x="433.86" y="380.70" style="font-size:8.67px;stroke:#000;stroke-width:0.2px">6</text><text x="438.25" y="380.70" style="font-size:8.67px;stroke:#000;stroke-width:0.2px">3</text><text x="442.57" y="380.70" style="font-size:8.67px;stroke:#000;stroke-width:0.2px">5</text>
<text x="469.78" y="380.70" style="font-size:8.67px;stroke:#000;stroke-width:0.2px">5</text><text x="474.11" y="380.70" style="font-size:8.67px;stroke:#000;stroke-width:0.2px">8</text><text x="478.41" y="380.70" style="font-size:8.67px;stroke:#000;stroke-width:0.2px">6</text>
<text x="505.66" y="380.70" style="font-size:8.67px;stroke:#000;stroke-width:0.2px">5</text><text x="510.01" y="380.70" style="font-size:8.67px;stroke:#000;stroke-width:0.2px">3</text><text x="514.29" y="380.70" style="font-size:8.67px;stroke:#000;stroke-width:0.2px">6</text>
</svg>
</body>
</html>
